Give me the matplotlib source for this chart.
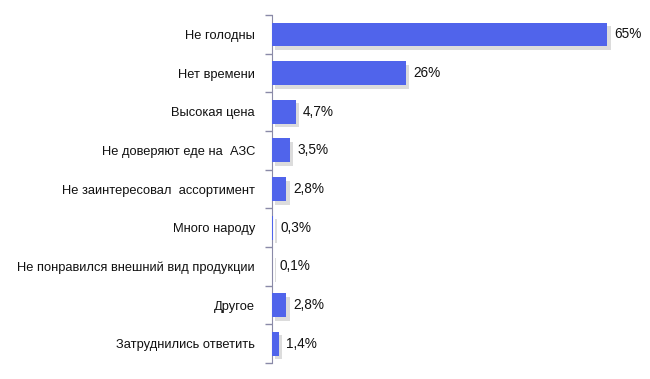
import matplotlib
matplotlib.use("Agg")
import matplotlib.pyplot as plt
import matplotlib.patheffects as pe
import numpy as np

# Survey answers and shares (%)
categories = [
    "Не голодны",
    "Нет времени",
    "Высокая цена",
    "Не доверяют еде на  АЗС",
    "Не заинтересовал  ассортимент",
    "Много народу",
    "Не понравился внешний вид продукции",
    "Другое",
    "Затруднились ответить",
]
values = [65, 26, 4.7, 3.5, 2.8, 0.3, 0.1, 2.8, 1.4]
value_labels = ["65%", "26%", "4,7%", "3,5%", "2,8%", "0,3%", "0,1%", "2,8%", "1,4%"]

plt.rcParams['font.family'] = ['Liberation Sans', 'DejaVu Sans']

fig = plt.figure(figsize=(6.5, 3.79), dpi=100)
ax = fig.add_axes([0.418, 0.042, 0.572, 0.918])

n = len(categories)
y = np.arange(n)
bar_col = (80/255, 100/255, 235/255)

bars = ax.barh(y, values, height=0.62, color=bar_col, zorder=3)
for b in bars:
    b.set_path_effects([pe.SimplePatchShadow(offset=(2.5, -2.5), shadow_rgbFace=(0.55, 0.55, 0.55), alpha=0.3),
                        pe.Normal()])

for yi, v, lab in zip(y, values, value_labels):
    ax.text(v + 1.4, yi, lab, va='center', ha='left', fontsize=9.8, color='#111111')

ax.set_ylim(n - 0.5, -0.5)
ax.set_xlim(0, 72)

ax.set_yticks(y)
ax.set_yticklabels(categories, fontsize=9.3, color='#111111')
ax.tick_params(axis='y', which='major', length=0, pad=12)
ax.set_yticks(np.arange(n + 1) - 0.5, minor=True)
ax.tick_params(axis='y', which='minor', length=5, color='#8a8aa8', width=1)
ax.set_xticks([])

for s in ['top', 'right', 'bottom']:
    ax.spines[s].set_visible(False)
ax.spines['left'].set_color('#8a8aa8')

fig.savefig("out.png", dpi=100)
